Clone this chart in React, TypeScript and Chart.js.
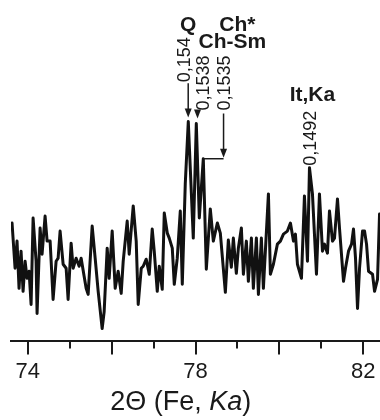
import { useEffect, useRef } from "react";
import { Chart, registerables } from "chart.js";

Chart.register(...registerables);

// 2Θ positions (degrees) and intensities (arbitrary units)
const twoTheta = [
  73.625, 73.697, 73.744, 73.792, 73.84, 73.888, 73.936, 73.983, 74.031, 74.079,
  74.127, 74.198, 74.222, 74.294, 74.341, 74.413, 74.461, 74.533, 74.604, 74.676,
  74.724, 74.771, 74.843, 74.915, 74.962, 75.034, 75.082, 75.153, 75.225, 75.273,
  75.344, 75.392, 75.44, 75.536, 75.607, 75.679, 75.774, 75.822, 75.894, 75.941,
  76.013, 76.085, 76.156, 76.228, 76.276, 76.371, 76.419, 76.515, 76.586, 76.634,
  76.706, 76.753, 76.825, 76.897, 76.968, 77.016, 77.088, 77.136, 77.207, 77.255,
  77.327, 77.374, 77.446, 77.494, 77.565, 77.637, 77.685, 77.756, 77.828, 77.947,
  78.019, 78.091, 78.186, 78.258, 78.353, 78.425, 78.521, 78.592, 78.712, 78.783,
  78.855, 78.903, 78.974, 79.022, 79.094, 79.142, 79.213, 79.261, 79.333, 79.38,
  79.452, 79.5, 79.571, 79.619, 79.739, 79.786, 79.858, 79.953, 80.025, 80.097,
  80.192, 80.264, 80.336, 80.383, 80.431, 80.527, 80.598, 80.67, 80.718, 80.789,
  80.837, 80.885, 80.956, 81.028, 81.076, 81.147, 81.195, 81.267, 81.315, 81.386,
  81.434, 81.53, 81.577, 81.649, 81.721, 81.768, 81.816, 81.864, 81.912, 81.983,
  82.031, 82.079, 82.127, 82.222, 82.27, 82.341, 82.389,
];
const intensity = [
  117, 72, 99, 52, 89, 49, 79, 62, 69, 36,
  122, 79, 27, 112, 86, 124, 99, 99, 41, 79,
  82, 109, 76, 72, 41, 97, 72, 82, 74, 82,
  64, 52, 46, 114, 82, 49, 12, 29, 92, 62,
  109, 52, 69, 47, 79, 119, 86, 134, 99, 36,
  72, 74, 81, 66, 111, 89, 49, 74, 51, 127,
  107, 102, 92, 56, 82, 129, 56, 156, 218, 102,
  216, 122, 181, 71, 131, 99, 117, 107, 48, 100,
  73, 102, 67, 92, 112, 66, 99, 59, 102, 52,
  102, 46, 102, 52, 146, 66, 76, 96, 99, 106,
  109, 117, 99, 106, 76, 62, 144, 79, 172, 146,
  106, 66, 146, 89, 96, 87, 129, 99, 102, 141,
  112, 59, 72, 89, 96, 111, 82, 32, 72, 109,
  109, 96, 69, 66, 49, 61, 126,
];

// Axis ticks
const xMin = 73.6;
const xMax = 82.4;
const majorTicks = [74, 76, 78, 80, 82];
const minorTicks = [75, 77, 79, 81];
const labelledTicks = [74, 78, 82];

// Annotations: d-spacings (nm) written vertically, phase names in bold
const dLabels = ["0,154", "0,1538", "0,1535", "0,1492"];
const dLabelX = [77.756, 78.215, 78.693, 80.765];
const dLabelBase = [257, 229, 229, 174];
const phaseLabels = ["Q", "Ch*", "Ch-Sm", "It,Ka"];
const phaseX = [77.828, 78.998, 78.878, 80.789];
const phaseY = [314, 314, 297, 244];
// arrows: x, from-y, tip-y
const arrowX = [77.826, 78.048, 78.669];
const arrowFrom = [256, 229, 226];
const arrowTip = [222, 221, 182];
// leader from the 0,1535 arrow tip to its peak
const leaderX = [78.186, 78.669];
const leaderY = 181;
const titleCenter = 77.65;

const INK = "#1a1a1a";
const FONT = "'Liberation Sans', Arial, sans-serif";

const decorPlugin = {
  id: "decor",
  afterDraw(chart: any) {
    const { ctx, chartArea } = chart;
    const x = chart.scales.x;
    const y = chart.scales.y;
    ctx.save();
    // tick marks
    ctx.strokeStyle = INK;
    ctx.lineWidth = 2;
    const drawTick = (v: number, len: number) => {
      const px = Math.round(x.getPixelForValue(v));
      ctx.beginPath();
      ctx.moveTo(px, chartArea.bottom);
      ctx.lineTo(px, chartArea.bottom + len);
      ctx.stroke();
    };
    majorTicks.forEach((v) => drawTick(v, 14));
    minorTicks.forEach((v) => drawTick(v, 8));

    // arrows
    ctx.lineWidth = 1.5;
    ctx.fillStyle = INK;
    arrowX.forEach((v, i) => {
      const px = x.getPixelForValue(v);
      const y0 = y.getPixelForValue(arrowFrom[i]);
      const y1 = y.getPixelForValue(arrowTip[i]);
      ctx.beginPath();
      ctx.moveTo(px, y0);
      ctx.lineTo(px, y1 - 6);
      ctx.stroke();
      ctx.beginPath();
      ctx.moveTo(px - 3.5, y1 - 9);
      ctx.lineTo(px + 3.5, y1 - 9);
      ctx.lineTo(px, y1);
      ctx.closePath();
      ctx.fill();
    });
    ctx.beginPath();
    ctx.moveTo(x.getPixelForValue(leaderX[0]), y.getPixelForValue(leaderY));
    ctx.lineTo(x.getPixelForValue(leaderX[1]), y.getPixelForValue(leaderY));
    ctx.stroke();

    // vertical d-spacing labels
    ctx.font = `18px ${FONT}`;
    ctx.textAlign = "left";
    ctx.textBaseline = "middle";
    dLabels.forEach((t, i) => {
      ctx.save();
      ctx.translate(x.getPixelForValue(dLabelX[i]), y.getPixelForValue(dLabelBase[i]));
      ctx.rotate(-Math.PI / 2);
      ctx.fillText(t, 0, 0);
      ctx.restore();
    });

    // phase labels
    ctx.font = `bold 21px ${FONT}`;
    ctx.textAlign = "center";
    phaseLabels.forEach((t, i) => {
      ctx.fillText(t, x.getPixelForValue(phaseX[i]), y.getPixelForValue(phaseY[i]));
    });

    // axis title: 2Θ (Fe, Ka) with Ka italic
    const parts = [
      { t: "2Θ (Fe, ", f: `27px ${FONT}` },
      { t: "Ka", f: `italic 27px ${FONT}` },
      { t: ")", f: `27px ${FONT}` },
    ];
    let total = 0;
    parts.forEach((p) => {
      ctx.font = p.f;
      total += ctx.measureText(p.t).width;
    });
    let cx = x.getPixelForValue(titleCenter) - total / 2;
    ctx.textAlign = "left";
    ctx.textBaseline = "alphabetic";
    parts.forEach((p) => {
      ctx.font = p.f;
      ctx.fillText(p.t, cx, chartArea.bottom + 69);
      cx += ctx.measureText(p.t).width;
    });
    ctx.restore();
  },
};

export default function App() {
  const ref = useRef<HTMLCanvasElement | null>(null);
  useEffect(() => {
    if (!ref.current) return;
    Chart.defaults.font.family = FONT;
    const chart = new Chart(ref.current, {
      type: "line",
      data: {
        datasets: [
          {
            data: twoTheta.map((v, i) => ({ x: v, y: intensity[i] })),
            borderColor: "#111",
            borderWidth: 3,
            borderJoinStyle: "round",
            borderCapStyle: "round",
            pointRadius: 0,
            tension: 0,
            fill: false,
          },
        ],
      },
      options: {
        animation: false,
        responsive: false,
        layout: { padding: { left: 11, right: 0, top: 9, bottom: 31 } },
        plugins: { legend: { display: false }, tooltip: { enabled: false } },
        scales: {
          x: {
            type: "linear",
            min: xMin,
            max: xMax,
            afterBuildTicks: (scale: any) => {
              scale.ticks = [...majorTicks, ...minorTicks]
                .sort((a, b) => a - b)
                .map((v) => ({ value: v }));
            },
            grid: { display: false, drawTicks: true, tickLength: 14 },
            border: { display: true, color: INK, width: 2 },
            ticks: {
              color: INK,
              font: { size: 22 },
              padding: 4,
              maxRotation: 0,
              autoSkip: false,
              callback: (v: any) => (labelledTicks.includes(Number(v)) ? String(v) : ""),
            },
          },
          y: {
            display: false,
            min: 0,
            max: 330,
          },
        },
      },
      plugins: [decorPlugin],
    });
    return () => chart.destroy();
  }, []);
  return (
    <div style={{ position: "fixed", left: 0, top: 0, width: 380, height: 420, background: "#fff" }}>
      <canvas ref={ref} width={380} height={420} />
    </div>
  );
}
